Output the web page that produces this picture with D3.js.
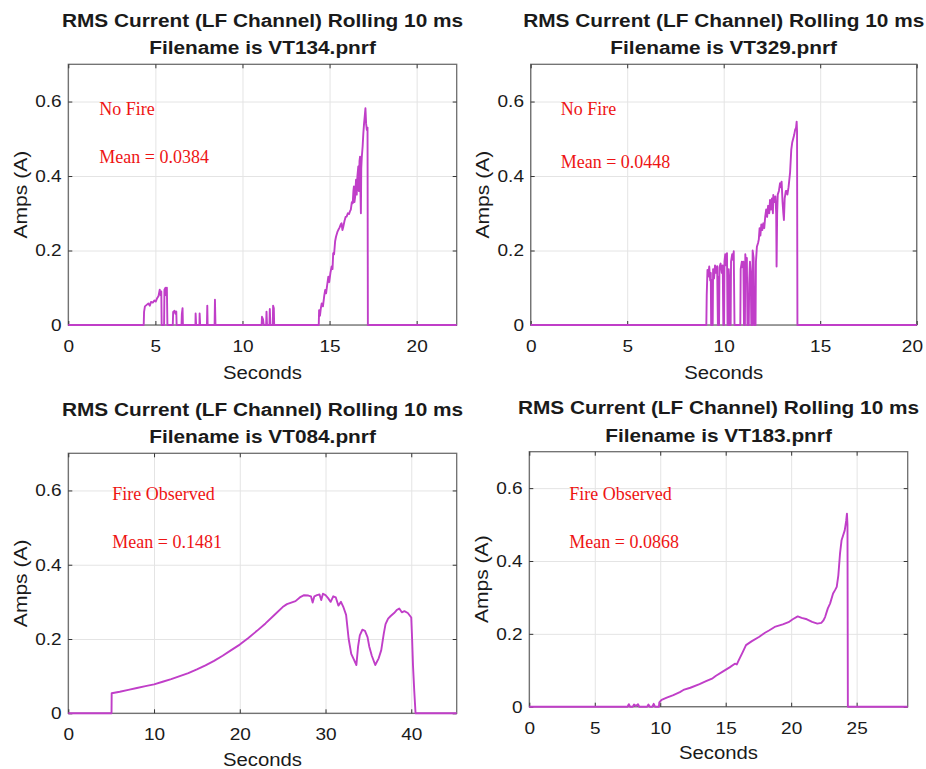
<!DOCTYPE html>
<html>
<head>
<meta charset="utf-8">
<script src="https://cdn.jsdelivr.net/npm/d3@7"></script>
<style>
  body { margin: 0; background: #fff; }
  svg { display: block; }
</style>
</head>
<body>
<svg id="chart"></svg>
<script>
// chart data
const titleLine = "RMS Current (LF Channel) Rolling 10 ms";
const fileNames = ["VT134.pnrf", "VT329.pnrf", "VT084.pnrf", "VT183.pnrf"];
const verdicts = ["No Fire", "No Fire", "Fire Observed", "Fire Observed"];
const means = ["0.0384", "0.0448", "0.1481", "0.0868"];
const xMax = [22.3, 20, 45.3, 28.9];
const xTicks = [[0, 5, 10, 15, 20], [0, 5, 10, 15, 20], [0, 10, 20, 30, 40], [0, 5, 10, 15, 20, 25]];
const yTicks = [0, 0.2, 0.4, 0.6];
const yMax = 0.7;

// [seconds, amps]
const vt134 = [[0,0],[4.33,0],[4.35,0.035],[4.4,0.05],[4.5,0.054],[4.6,0.058],[4.68,0.052],[4.75,0.062],[4.85,0.06],
  [4.95,0.066],[5.02,0.063],[5.1,0.072],[5.18,0.078],[5.25,0.095],[5.3,0.08],[5.34,0.09],[5.36,0],[5.5,0],[5.52,0.095],
  [5.58,0.1],[5.62,0.08],[5.66,0.1],[5.69,0],[6.0,0],[6.02,0.035],[6.1,0.038],[6.15,0.03],[6.2,0.036],[6.22,0],[6.5,0],
  [6.52,0.03],[6.56,0.045],[6.58,0],[7.3,0],[7.31,0.031],[7.34,0],[7.53,0],[7.54,0.031],[7.57,0],[7.96,0],[7.98,0.052],
  [8.0,0],[8.4,0],[8.42,0.068],[8.45,0],[11.1,0],[11.12,0.022],[11.18,0.015],[11.22,0],[11.36,0],[11.38,0.036],[11.41,0],
  [11.55,0],[11.57,0.043],[11.6,0],[11.74,0],[11.76,0.052],[11.8,0.045],[11.82,0],[14.38,0],[14.4,0.04],[14.45,0.025],
  [14.5,0.045],[14.55,0.058],[14.62,0.05],[14.7,0.08],[14.75,0.094],[14.8,0.085],[14.87,0.11],[14.93,0.13],[14.98,0.115],
  [15.05,0.14],[15.12,0.157],[15.17,0.15],[15.21,0.193],[15.26,0.19],[15.32,0.225],[15.37,0.237],[15.45,0.25],[15.5,0.255],
  [15.58,0.262],[15.64,0.27],[15.69,0.273],[15.74,0.255],[15.79,0.264],[15.86,0.28],[15.92,0.29],[15.98,0.291],[16.05,0.3],
  [16.12,0.298],[16.17,0.305],[16.22,0.31],[16.28,0.33],[16.33,0.327],[16.37,0.36],[16.4,0.372],[16.43,0.33],[16.47,0.345],
  [16.52,0.39],[16.56,0.35],[16.6,0.4],[16.65,0.426],[16.68,0.36],[16.72,0.44],[16.75,0.452],[16.78,0.34],[16.8,0.3],
  [16.82,0.42],[16.85,0.45],[16.9,0.48],[16.94,0.515],[16.98,0.54],[17.02,0.56],[17.06,0.582],[17.1,0.54],[17.14,0.524],
  [17.18,0.53],[17.2,0],[22.3,0]];

const vt329 = [[0,0],[9.1,0],[9.12,0.08],[9.16,0.148],[9.2,0.13],[9.25,0.157],[9.3,0.12],[9.33,0.14],[9.35,0],
  [9.38,0],[9.39,0.12],[9.41,0],
  [9.43,0],[9.45,0.15],[9.5,0.125],[9.55,0.16],[9.6,0.14],[9.66,0.158],[9.7,0],
  [9.72,0],[9.73,0.13],[9.74,0],
  [9.76,0],[9.78,0.155],[9.84,0.165],[9.9,0.14],[9.95,0.16],[9.98,0],
  [10.02,0],[10.04,0.17],[10.08,0.19],[10.13,0.16],[10.17,0.193],[10.2,0],
  [10.24,0],[10.26,0.15],[10.29,0.12],[10.31,0],
  [10.36,0],[10.38,0.17],[10.44,0.19],[10.48,0.175],[10.52,0.198],[10.56,0],
  [10.86,0],[10.88,0.15],[10.94,0.17],[10.98,0.155],[11.02,0.17],[11.05,0],
  [11.1,0],[11.12,0.19],[11.16,0.16],[11.2,0.18],[11.23,0],
  [11.3,0],[11.32,0.11],[11.36,0.17],[11.4,0.14],[11.43,0],
  [11.48,0],[11.5,0.2],[11.55,0.18],[11.58,0],
  [11.65,0],[11.67,0.17],[11.72,0.21],[11.78,0.22],[11.82,0.23],[11.86,0.26],[11.9,0.24],[11.95,0.27],[12.0,0.255],
  [12.05,0.273],[12.1,0.26],[12.15,0.29],[12.2,0.31],[12.25,0.29],[12.3,0.32],[12.36,0.3],[12.4,0.336],[12.45,0.31],
  [12.5,0.34],[12.55,0.3],[12.57,0.349],[12.62,0.33],[12.68,0.345],[12.72,0.3],[12.74,0.157],[12.77,0.3],[12.8,0.35],
  [12.86,0.36],[12.92,0.381],[12.97,0.37],[13.0,0.385],[13.05,0.33],[13.09,0.3],[13.12,0.282],[13.16,0.34],[13.22,0.36],
  [13.26,0.36],[13.3,0.35],[13.36,0.37],[13.4,0.39],[13.44,0.41],[13.5,0.47],[13.55,0.49],[13.6,0.5],[13.65,0.51],
  [13.7,0.524],[13.75,0.53],[13.78,0.546],[13.8,0.52],[13.82,0],[20,0]];

const vt084 = [[0,0],[5.04,0],[5.06,0.054],[6,0.058],[7,0.063],[8,0.068],[9,0.073],[10,0.078],[11,0.085],[12,0.092],
  [13,0.1],[14,0.108],[15,0.118],[16,0.129],[17,0.141],[18,0.155],[19,0.17],[20,0.185],[21,0.203],[22,0.222],[23,0.242],
  [24,0.264],[25,0.286],[25.5,0.294],[26,0.298],[26.5,0.302],[27,0.312],[27.5,0.318],[28,0.317],[28.3,0.315],[28.5,0.298],
  [28.7,0.315],[29,0.318],[29.3,0.32],[29.5,0.305],[29.7,0.322],[30,0.318],[30.3,0.31],[30.6,0.3],[30.9,0.315],[31.2,0.312],
  [31.5,0.29],[31.8,0.3],[32.1,0.285],[32.4,0.265],[32.7,0.2],[33.0,0.16],[33.3,0.145],[33.6,0.13],[33.8,0.18],[34.0,0.21],
  [34.3,0.225],[34.6,0.222],[34.9,0.205],[35.1,0.18],[35.4,0.155],[35.8,0.13],[36.2,0.148],[36.5,0.17],[36.8,0.215],
  [37.0,0.24],[37.3,0.255],[37.6,0.262],[38.0,0.27],[38.3,0.278],[38.6,0.282],[38.9,0.272],[39.2,0.275],[39.6,0.27],
  [40.0,0.258],[40.1,0.2],[40.2,0.13],[40.35,0.06],[40.5,0],[45.3,0]];

const vt183 = [[0,0],[7.5,0],[7.6,0.007],[7.7,0],[7.9,0],[8.0,0.006],[8.15,0.002],[8.3,0.007],[8.4,0],[9.0,0],[9.1,0.006],
  [9.2,0],[9.4,0],[9.5,0.008],[9.6,0],[9.9,0],[9.93,0.012],[10.1,0.019],[10.5,0.025],[11,0.032],[11.5,0.04],[11.77,0.046],
  [12.3,0.052],[13,0.062],[13.5,0.07],[14,0.078],[14.26,0.085],[14.8,0.097],[15.3,0.108],[15.7,0.118],[15.85,0.116],
  [16.0,0.128],[16.3,0.15],[16.55,0.169],[17,0.18],[17.57,0.192],[18,0.203],[18.34,0.21],[18.8,0.22],[19.36,0.226],
  [19.8,0.232],[20.12,0.24],[20.5,0.248],[20.8,0.244],[21.2,0.24],[21.6,0.233],[22,0.228],[22.3,0.23],[22.45,0.236],
  [22.59,0.246],[22.8,0.27],[22.97,0.283],[23.2,0.311],[23.35,0.32],[23.48,0.329],[23.6,0.36],[23.73,0.42],[23.85,0.457],
  [24.09,0.484],[24.2,0.51],[24.26,0.53],[24.3,0.5],[24.33,0],[28.9,0]];

const series = [vt134, vt329, vt084, vt183];

// layout of the four axes boxes (pixels)
const boxes = [
  {left: 68.3, top: 64.3, right: 456.7, bottom: 325, noteX: 31, noteY: [51, 99], xlab: 54},
  {left: 530.7, top: 64.3, right: 916.7, bottom: 325, noteX: 30, noteY: [51, 104], xlab: 54},
  {left: 68.3, top: 453.3, right: 456.7, bottom: 713.3, noteX: 44, noteY: [47, 95], xlab: 53},
  {left: 529.3, top: 451.7, right: 907.7, bottom: 706.7, noteX: 40, noteY: [48, 96], xlab: 52}
];

const sans = "'Liberation Sans', Arial, Helvetica, sans-serif";
const serif = "'Liberation Serif', 'Times New Roman', serif";
const lineColor = "#c03ec8";
const pageWidth = 926;

const svg = d3.select("#chart")
              .attr("width", pageWidth)
              .attr("height", 769)
              .style("background", "#fff");

function stretchText(g, x, y, str, size, sx, opts) {
  opts = opts || {};
  return g.append("text")
          .attr("transform", "translate(" + x + "," + y + ")" + (opts.rotate ? " rotate(-90)" : "") + " scale(" + sx + ",1)")
          .attr("text-anchor", "middle")
          .style("font-family", sans)
          .style("font-size", size + "px")
          .style("font-weight", opts.bold ? "bold" : "normal")
          .style("fill", "#1a1a1a")
          .text(str);
}

boxes.forEach(function(b, i) {
  const w = b.right - b.left;
  const h = b.bottom - b.top;
  const g = svg.append("g")
               .attr("transform", "translate(" + b.left + "," + b.top + ")");

  const x = d3.scaleLinear().domain([0, xMax[i]]).range([0, w]);
  const y = d3.scaleLinear().domain([0, yMax]).range([h, 0]);

  // grid
  g.append("g")
   .attr("class", "grid")
   .attr("transform", "translate(0," + h + ")")
   .call(d3.axisBottom(x).tickValues(xTicks[i]).tickSize(-h).tickFormat(""));
  g.append("g")
   .attr("class", "grid")
   .call(d3.axisLeft(y).tickValues(yTicks).tickSize(-w).tickFormat(""));
  g.selectAll(".grid .domain").remove();

  g.append("rect")
   .attr("width", w)
   .attr("height", h)
   .style("fill", "none")
   .style("stroke", "#6e6e6e")
   .style("stroke-width", 1.3);

  // axes with inward ticks
  const bottomAxis = g.append("g")
   .attr("transform", "translate(0," + h + ")")
   .call(d3.axisBottom(x).tickValues(xTicks[i]).tickSize(-4).tickPadding(15).tickFormat(d3.format("d")));
  const leftAxis = g.append("g")
   .call(d3.axisLeft(y).tickValues(yTicks).tickSize(-4).tickPadding(6)
     .tickFormat(d => d === 0 ? "0" : d3.format(".1f")(d)));
  g.append("g")
   .call(d3.axisTop(x).tickValues(xTicks[i]).tickSize(-4).tickFormat(""));
  g.append("g")
   .attr("transform", "translate(" + w + ",0)")
   .call(d3.axisRight(y).tickValues(yTicks).tickSize(-4).tickFormat(""));
  g.selectAll(".domain").remove();
  g.selectAll(".tick line").style("stroke", "#333");
  g.selectAll(".grid .tick line").style("stroke", "#e4e4e4").style("stroke-width", 1);

  [bottomAxis, leftAxis].forEach(a => {
    a.selectAll("text")
     .attr("transform", "scale(1.12,1)")
     .style("font-family", sans)
     .style("font-size", "17px")
     .style("fill", "#1a1a1a");
  });

  // keep the last x tick label inside the page
  bottomAxis.selectAll("text").each(function() {
    const r = this.getBoundingClientRect();
    if (r.right > pageWidth - 2) {
      d3.select(this).attr("x", -(r.right - pageWidth + 3) / 1.12);
    }
  });

  // data line
  const line = d3.line()
                 .x(d => x(d[0]))
                 .y(d => y(d[1]));
  g.append("path")
   .datum(series[i])
   .attr("d", line)
   .style("fill", "none")
   .style("stroke", lineColor)
   .style("stroke-width", 1.9)
   .style("stroke-linejoin", "round");

  // titles and axis labels
  stretchText(svg, b.left + w / 2, b.top - 37.6, titleLine, 17.5, 1.19, {bold: true});
  stretchText(svg, b.left + w / 2, b.top - 10, "Filename is " + fileNames[i], 17.5, 1.19, {bold: true});
  stretchText(svg, b.left + w / 2, b.bottom + b.xlab, "Seconds", 19, 1.07);
  stretchText(svg, b.left - 41.5, b.top + h / 2, "Amps (A)", 18, 1.17, {rotate: true});

  // annotations
  [verdicts[i], "Mean = " + means[i]].forEach((t, k) => {
    g.append("text")
     .attr("x", b.noteX)
     .attr("y", b.noteY[k])
     .style("font-family", serif)
     .style("font-size", "18px")
     .style("fill", "#ee1414")
     .text(t);
  });
});
</script>
</body>
</html>
